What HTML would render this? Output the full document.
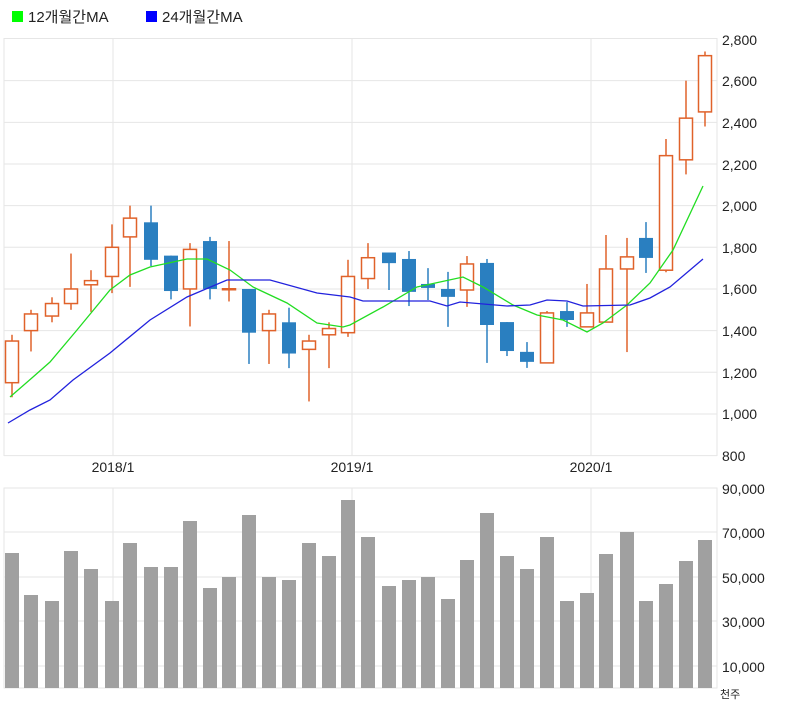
<!DOCTYPE html>
<html><head><meta charset="utf-8"><style>
html,body{margin:0;padding:0;background:#fff;}
svg{display:block;font-family:"Liberation Sans","Noto Sans CJK KR",sans-serif;}
</style></head><body>
<svg id="c" width="800" height="707" xmlns="http://www.w3.org/2000/svg">
<rect x="12" y="11" width="11" height="11" fill="#00ff00"/>
<text x="28" y="22" font-size="15" fill="#222">12개월간MA</text>
<rect x="146" y="11" width="11" height="11" fill="#0000ff"/>
<text x="162" y="22" font-size="15" fill="#222">24개월간MA</text>
<line x1="4" y1="38.5" x2="717" y2="38.5" stroke="#e6e6e6"/>
<g id="grid"></g>
<g font-size="14" fill="#222">
<text x="722" y="45">2,800</text><text x="722" y="86">2,600</text><text x="722" y="128">2,400</text>
<text x="722" y="170">2,200</text><text x="722" y="211">2,000</text><text x="722" y="253">1,800</text>
<text x="722" y="294">1,600</text><text x="722" y="336">1,400</text><text x="722" y="378">1,200</text>
<text x="722" y="419">1,000</text><text x="722" y="461">800</text>
<text x="113" y="472" text-anchor="middle">2018/1</text>
<text x="352" y="472" text-anchor="middle">2019/1</text>
<text x="591" y="472" text-anchor="middle">2020/1</text>
<text x="722" y="494">90,000</text><text x="722" y="538">70,000</text><text x="722" y="583">50,000</text>
<text x="722" y="627">30,000</text><text x="722" y="672">10,000</text>
<text x="720" y="698" font-size="11">천주</text>
</g>
<g id="bars"></g>
<g id="cand"></g>
<polyline fill="none" stroke="#22dd22" stroke-width="1.3" points="10,397 33,377 50,362 77,330 110,290 130,275 150,267 187,259 207,259 230,270 253,287 287,303 317,323 343,327 350,325 383,307 417,287 463,277 483,287 513,305 537,315 563,320 587,332 603,323 627,305 650,283 673,250 703,186"/>
<polyline fill="none" stroke="#2222dd" stroke-width="1.3" points="8,423 30,410 50,400 73,380 110,353 150,320 187,297 227,280 270,280 317,293 350,297 363,301 430,301 447,306 460,302 507,306 530,305 547,300 567,301 583,306 630,305 650,298 670,287 703,259"/>
</svg>
<script>
var ns="http://www.w3.org/2000/svg";
function el(p,t,a){var e=document.createElementNS(ns,t);for(var k in a)e.setAttribute(k,a[k]);document.getElementById(p).appendChild(e);}
function Y(v){return 39+(2800-v)*0.2083;}
// price grid
for(var v=2600;v>=800;v-=200){el("grid","line",{x1:4,x2:717,y1:Y(v),y2:Y(v),stroke:"#e6e6e6"});}
[113,352,591].forEach(function(x){el("grid","line",{x1:x,x2:x,y1:38,y2:456,stroke:"#e6e6e6"});el("grid","line",{x1:x,x2:x,y1:488,y2:688,stroke:"#e6e6e6"});});
el("grid","line",{x1:4,x2:4,y1:38,y2:456,stroke:"#e6e6e6"});
el("grid","line",{x1:717,x2:717,y1:38,y2:456,stroke:"#e6e6e6"});
el("grid","rect",{x:4,y:488,width:713,height:200,fill:"none",stroke:"#e6e6e6"});
[532,577,621,666].forEach(function(y){el("grid","line",{x1:4,x2:717,y1:y,y2:y,stroke:"#e6e6e6"});});
var xs=[12,31,52,71,91,112,130,151,171,190,210,229,249,269,289,309,329,348,368,389,409,428,448,467,487,507,527,547,567,587,606,627,646,666,686,705];
var d=[[1150,1350,1380,1080],[1400,1480,1500,1300],[1470,1530,1560,1440],[1530,1600,1770,1500],[1620,1640,1690,1490],
[1660,1800,1910,1580],[1850,1940,2000,1610],[1920,1740,2000,1710],[1760,1590,1760,1550],[1600,1790,1820,1420],
[1830,1600,1850,1550],[1600,1601,1830,1540],[1600,1390,1600,1240],[1400,1480,1500,1240],[1440,1290,1510,1220],
[1310,1350,1380,1060],[1380,1410,1440,1220],[1390,1660,1740,1370],[1650,1750,1820,1600],[1775,1724,1775,1595],
[1744,1586,1782,1518],[1624,1605,1700,1547],[1600,1562,1682,1418],[1595,1720,1758,1514],[1725,1427,1744,1245],
[1441,1302,1441,1278],[1298,1250,1345,1221],[1245,1485,1494,1245],[1494,1451,1537,1418],[1418,1485,1624,1418],
[1441,1696,1859,1441],[1696,1754,1845,1297],[1845,1749,1921,1677],[1690,2240,2320,1680],[2220,2420,2600,2150],[2450,2720,2740,2380]];
var vt=[553,595,601,551,569,601,543,567,567,521,588,577,515,577,580,543,556,500,537,586,580,577,599,560,513,556,569,537,601,593,554,532,601,584,561,540];
for(var i=0;i<36;i++){
 var x=xs[i],o=d[i][0],c=d[i][1],h=d[i][2],l=d[i][3],up=c>=o,col=up?"#e0622a":"#2a7fc0";
 el("cand","line",{x1:x,x2:x,y1:Y(h),y2:Y(l),stroke:col,"stroke-width":1.5});
 var t=Y(Math.max(o,c)),b=Y(Math.min(o,c));
 if(up)el("cand","rect",{x:x-6.5,y:t,width:13,height:Math.max(b-t,1),fill:"#fff",stroke:col,"stroke-width":1.5});
 else el("cand","rect",{x:x-7,y:t,width:14,height:Math.max(b-t,1.5),fill:col});
 el("bars","rect",{x:x-7,y:vt[i],width:14,height:688-vt[i],fill:"#a0a0a0"});
}
</script>
</body></html>
